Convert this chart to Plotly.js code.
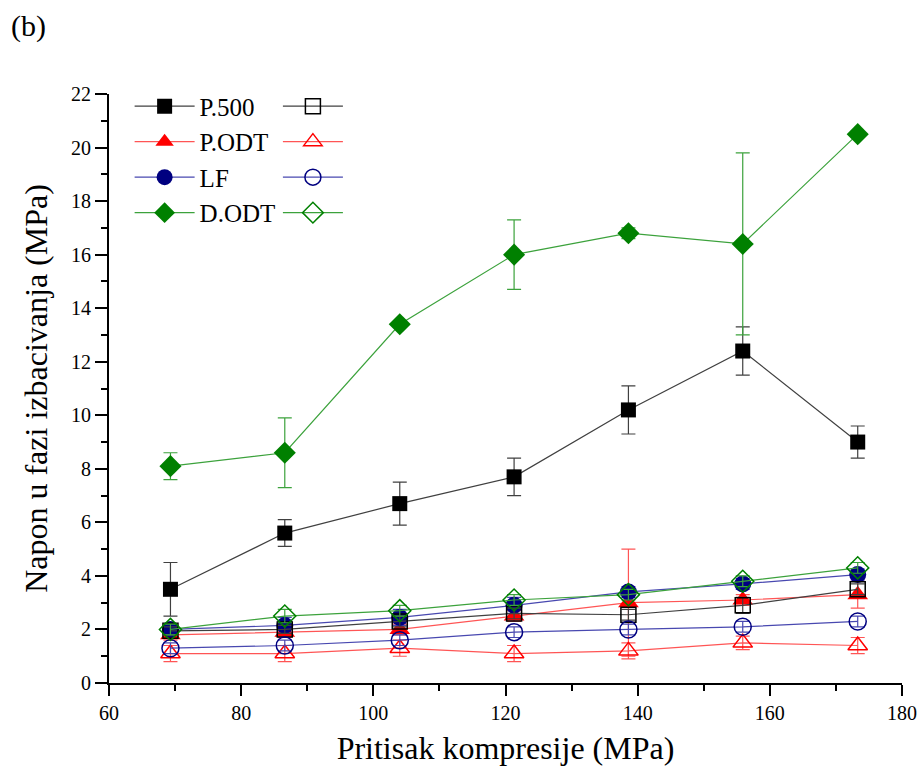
<!DOCTYPE html>
<html>
<head>
<meta charset="utf-8">
<script src="https://cdn.plot.ly/plotly-3.0.1.min.js"></script>
<style>
html,body{margin:0;padding:0;background:#fff;}
#chart{width:923px;height:776px;}
</style>
</head>
<body>
<div id="chart"></div>
<script>
// Pressure (MPa)
const pressure = [69.3, 86.6, 104.0, 121.3, 138.6, 155.9, 173.3];

// Filled series (with error)
const p500 = [3.5, 5.6, 6.7, 7.7, 10.2, 12.4, 9.0];
const p500Err = [1.0, 0.5, 0.8, 0.7, 0.9, 0.9, 0.6];
const podt = [1.8, 1.9, 2.0, 2.5, 3.0, 3.1, 3.3];
const podtErr = [0.2, 0.2, 0.2, 0.2, 2.0, 0.2, 0.5];
const lf = [2.0, 2.15, 2.45, 2.9, 3.4, 3.7, 4.05];
const lfErr = [0.2, 0.3, 0.3, 0.3, 0.2, 0.2, 0.2];
const dodt = [8.1, 8.6, 13.4, 16.0, 16.8, 16.4, 20.5];
const dodtErr = [0.5, 1.3, 0.1, 1.3, 0.2, 3.4, 0.0];

// Open series (with error)
const p500o = [1.95, 2.0, 2.3, 2.6, 2.55, 2.9, 3.5];
const p500oErr = [0.15, 0.15, 0.2, 0.2, 0.2, 0.3, 0.2];
const podto = [1.1, 1.1, 1.3, 1.1, 1.2, 1.5, 1.4];
const podtoErr = [0.3, 0.3, 0.3, 0.3, 0.3, 0.25, 0.3];
const lfo = [1.3, 1.4, 1.6, 1.9, 2.0, 2.1, 2.3];
const lfoErr = [0.2, 0.2, 0.2, 0.2, 0.2, 0.2, 0.2];
const dodto = [2.0, 2.5, 2.7, 3.1, 3.3, 3.8, 4.3];
const dodtoErr = [0.2, 0.25, 0.2, 0.2, 0.2, 0.2, 0.2];

const names = ['P.500', 'P.ODT', 'LF', 'D.ODT'];
const markerColors = ['#000000', '#ff0000', '#000080', '#008000'];
const lineColors = ['#404040', '#ff5555', '#4848b0', '#3ca23c'];
const filledSymbols = ['square', 'triangle-up', 'circle', 'diamond'];
const openSymbols = ['square-open', 'triangle-up-open', 'circle-open', 'diamond-open'];
const filledSizes = [15, 18, 17, 17];
const openSizes = [15, 17, 17, 17];

const filledY = [p500, podt, lf, dodt];
const filledE = [p500Err, podtErr, lfErr, dodtErr];
const openY = [p500o, podto, lfo, dodto];
const openE = [p500oErr, podtoErr, lfoErr, dodtoErr];

const traces = [];
for (let i = 0; i < 4; i++) {
  traces.push({
    x: pressure, y: filledY[i], type: 'scatter', mode: 'lines+markers',
    name: names[i], legend: 'legend',
    line: {color: lineColors[i], width: 1.2},
    marker: {symbol: filledSymbols[i], size: filledSizes[i], color: markerColors[i], line: {width: 0}},
    error_y: {type: 'data', array: filledE[i], visible: true, color: lineColors[i], thickness: 1.2, width: 7}
  });
}
for (let i = 0; i < 4; i++) {
  traces.push({
    x: pressure, y: openY[i], type: 'scatter', mode: 'lines+markers',
    name: ' ', legend: 'legend2',
    line: {color: lineColors[i], width: 1.2},
    marker: {symbol: openSymbols[i], size: openSizes[i], color: markerColors[i], line: {width: 1.5, color: markerColors[i]}},
    error_y: {type: 'data', array: openE[i], visible: true, color: lineColors[i], thickness: 1.2, width: 7}
  });
}

const serif = '"Liberation Serif", "Times New Roman", serif';
const layout = {
  width: 923, height: 776,
  margin: {l: 109, r: 21, t: 94, b: 93},
  paper_bgcolor: '#ffffff', plot_bgcolor: '#ffffff',
  font: {family: serif, color: '#000000'},
  title: {text: '(b)', x: 11/923, xref: 'container', xanchor: 'left', y: 1 - 15/776, yref: 'container', yanchor: 'top', font: {family: serif, size: 30, color: '#000'}},
  xaxis: {
    range: [60, 180], dtick: 20, tick0: 60,
    showgrid: false, zeroline: false, showline: true, linecolor: '#000', linewidth: 2,
    ticks: 'outside', ticklen: 11, tickwidth: 2, tickcolor: '#000',
    minor: {dtick: 10, ticks: 'outside', ticklen: 6, tickwidth: 2, tickcolor: '#000'},
    tickfont: {family: serif, size: 20, color: '#000'},
    title: {text: 'Pritisak kompresije (MPa)', font: {family: serif, size: 32, color: '#000'}, standoff: 14}
  },
  yaxis: {
    range: [0, 22], dtick: 2, tick0: 0,
    showgrid: false, zeroline: false, showline: true, linecolor: '#000', linewidth: 2,
    ticks: 'outside', ticklen: 12, tickwidth: 2, tickcolor: '#000',
    minor: {dtick: 1, ticks: 'outside', ticklen: 6, tickwidth: 2, tickcolor: '#000'},
    tickfont: {family: serif, size: 20, color: '#000'},
    title: {text: 'Napon u fazi izbacivanja (MPa)', font: {family: serif, size: 32, color: '#000'}, standoff: 14}
  },
  legend: {
    x: 0.026, y: 1.018, xanchor: 'left', yanchor: 'top',
    bgcolor: 'rgba(0,0,0,0)', font: {family: serif, size: 25, color: '#000'},
    itemwidth: 60, traceorder: 'normal', itemclick: false
  },
  legend2: {
    x: 0.213, y: 1.018, xanchor: 'left', yanchor: 'top',
    bgcolor: 'rgba(0,0,0,0)', font: {family: serif, size: 25, color: '#000'},
    itemwidth: 60, traceorder: 'normal', itemclick: false
  },
  showlegend: true
};

Plotly.newPlot('chart', traces, layout, {displayModeBar: false, staticPlot: true});
</script>
</body>
</html>
